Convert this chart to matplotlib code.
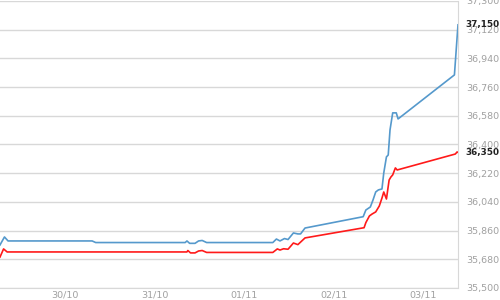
import matplotlib
matplotlib.use('Agg')
import matplotlib.pyplot as plt
import matplotlib.transforms as mtransforms


# Buy / sell price over the last days (x in days from 30/10)

buy_days = [-0.73, -0.68, -0.64, 0.30, 0.34, 1.34, 1.36, 1.39, 1.45, 1.49,
            1.53, 1.58, 2.32, 2.36, 2.40, 2.45, 2.49, 2.55, 2.60, 2.63,
            2.68, 3.33, 3.36, 3.41, 3.44, 3.47, 3.50, 3.54, 3.56, 3.59,
            3.61, 3.63, 3.66, 3.70, 3.72, 4.35, 4.39]
buy_price = [35770, 35820, 35795, 35795, 35785, 35785, 35795, 35780, 35780, 35795,
             35798, 35785, 35785, 35807, 35795, 35810, 35804, 35845, 35839, 35839,
             35876, 35947, 35989, 36008, 36052, 36102, 36115, 36121, 36221, 36322,
             36334, 36491, 36598, 36598, 36560, 36836, 37150]

sell_days = [-0.73, -0.69, -0.65, 1.36, 1.37, 1.40, 1.45, 1.49, 1.53, 1.58,
             2.32, 2.37, 2.40, 2.44, 2.49, 2.55, 2.60, 2.68, 3.34, 3.36,
             3.40, 3.43, 3.47, 3.51, 3.54, 3.56, 3.59, 3.62, 3.64, 3.66,
             3.69, 3.71, 4.36, 4.38, 4.39]
sell_price = [35694, 35745, 35726, 35726, 35735, 35720, 35720, 35732, 35735, 35723,
              35723, 35745, 35738, 35746, 35743, 35782, 35772, 35814, 35878, 35910,
              35952, 35964, 35977, 36014, 36064, 36102, 36058, 36177, 36196, 36209,
              36253, 36240, 36340, 36353, 36350]

y_ticks = [35500, 35680, 35860, 36040, 36220, 36400, 36580, 36760, 36940, 37120, 37300]
x_ticks = [0, 1, 2, 3, 4]
x_labels = ['30/10', '31/10', '01/11', '02/11', '03/11']

last_buy = 37150
last_sell = 36350

fig = plt.figure(figsize=(5, 3), dpi=100)
ax = fig.add_axes([0.0, 0.04, 0.916, 0.957])

ax.plot(buy_days, buy_price, color='#5599cc', lw=1.2)
ax.plot(sell_days, sell_price, color='#ff1a1a', lw=1.2)

ax.set_xlim(-0.73, 4.39)
ax.set_ylim(35500, 37300)

ax.set_yticks(y_ticks)
ax.set_yticklabels(['{:,}'.format(v) for v in y_ticks])
ax.yaxis.tick_right()
ax.tick_params(axis='y', length=0, pad=6, labelsize=6.8, labelcolor='#a0a0a0')
ax.set_xticks(x_ticks)
ax.set_xticklabels(x_labels)
ax.tick_params(axis='x', length=0, pad=2, labelsize=6.8, labelcolor='#a0a0a0')
ax.grid(axis='y', color='#d8d8d8', lw=1)
ax.set_axisbelow(True)

for side in ['top', 'left']:
    ax.spines[side].set_visible(False)
for side in ['right', 'bottom']:
    ax.spines[side].set_color('#d8d8d8')

shift = mtransforms.offset_copy(ax.get_yaxis_transform(), fig=fig, x=5.5, units='points')
for v in [last_buy, last_sell]:
    ax.text(1.0, v, '{:,}'.format(v), transform=shift,
            ha='left', va='center', fontsize=6.4, fontweight='bold', color='#222222')

fig.savefig('out.png', dpi=100)
plt.close()
